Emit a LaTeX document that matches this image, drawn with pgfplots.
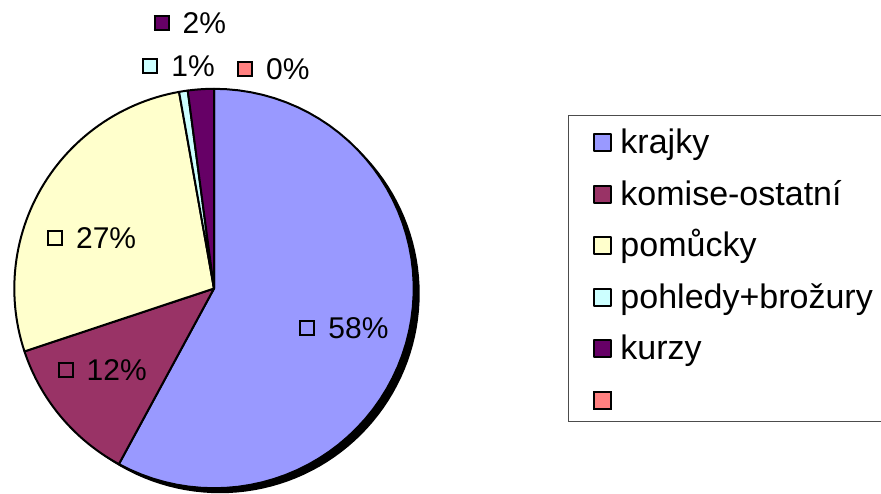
\documentclass[border=0pt]{standalone}
\usepackage{fontspec}
\setmainfont{Liberation Sans}
\usepackage{pgfplots}
\usepackage{pgfplotstable}
\pgfplotsset{compat=1.18}

\definecolor{c0}{HTML}{9999FF}
\definecolor{c1}{HTML}{993366}
\definecolor{c2}{HTML}{FFFFCC}
\definecolor{c3}{HTML}{CCFFFF}
\definecolor{c4}{HTML}{660066}
\definecolor{c5}{HTML}{FF8080}

% share in percent, label position (left of key, baseline) in picture pixels
\pgfplotstableread{
share lx    ly
57.9  299   338.3
12.0  57.3  380
27.3  46.7  248.3
0.7   142   76
2.1   153.3 33.3
0.0   236.7 79
}\piedata

\newcommand\labelfont{\fontsize{15}{15}\selectfont}
\newcommand\pielabel[2]{{\setlength\fboxsep{0pt}\setlength\fboxrule{1pt}%
  \raisebox{2.15pt}{\fcolorbox{black}{#1}{\rule{0pt}{6pt}\rule{6pt}{0pt}}}}\hspace{6.5pt}#2\%}

\begin{document}
\begin{tikzpicture}
\begin{axis}[
    name=ax,
    x=0.5pt, y=0.5pt,
    xmin=0, xmax=881, ymin=0, ymax=493,
    y dir=reverse,
    hide axis, clip=false,
    legend cell align=left,
    legend style={at={(0.6447,0.7667)}, anchor=north west,
        draw=black!70, line width=0.5pt,
        font=\fontsize{17}{17}\selectfont,
        inner xsep=12.5pt, inner ysep=4.125pt,
        row sep=9.75pt, column sep=4pt,
        nodes={inner sep=0pt, text height=14.875pt, text depth=1.125pt}},
    legend image code/.code={\draw[#1, line width=1pt] (0pt,-5.725pt) rectangle (8.5pt,2.775pt);},
    legend entries={krajky,komise-ostatní,pomůcky,pohledy+brožury,kurzy,\mbox{}},
]
% shadow
\addplot[fill=black, draw=none, domain=0:360, samples=145, forget plot]
    ({220+199.7*cos(x)},{293.5-199.7*sin(x)}) -- cycle;

\pgfmathsetmacro\cum{0}
\pgfplotsforeachungrouped \i in {0,...,5}{%
  \pgfplotstablegetelem{\i}{share}\of\piedata \let\val\pgfplotsretval
  \pgfplotstablegetelem{\i}{lx}\of\piedata \let\lx\pgfplotsretval
  \pgfplotstablegetelem{\i}{ly}\of\piedata \let\ly\pgfplotsretval
  \pgfmathsetmacro\a{90-3.6*\cum}%
  \pgfmathsetmacro\cum{\cum+\val}%
  \pgfmathsetmacro\b{90-3.6*\cum}%
  \pgfmathtruncatemacro\pct{round(\val)}%
  \pgfmathtruncatemacro\nonzero{\val>0}%
  \ifnum\nonzero=1
    \edef\next{\noexpand\addplot[fill=c\i, draw=black, line width=1pt, line join=round,
      domain=\b:\a, samples=60] ({214+199.7*cos(x)},{288.5-199.7*sin(x)}) -- (axis cs:214,288.5) -- cycle;}%
  \else
    \edef\next{\noexpand\addlegendimage{fill=c\i, draw=black}}%
  \fi
  \next
  \edef\next{\noexpand\node[anchor=base west, inner sep=0pt, font=\noexpand\labelfont]
    at (axis cs:\lx,\ly) {\noexpand\pielabel{c\i}{\pct}};}%
  \next
}
\end{axis}
\pgfresetboundingbox
\path (ax.south west) rectangle (ax.north east);
\end{tikzpicture}
\end{document}
